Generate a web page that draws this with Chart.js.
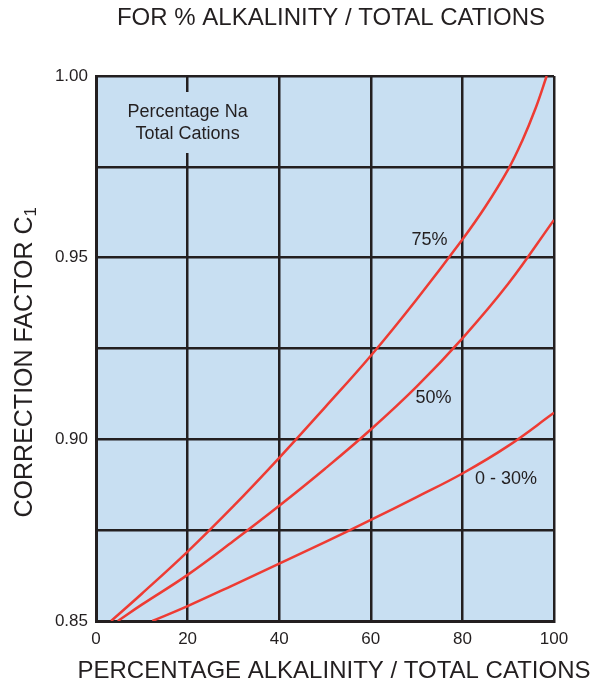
<!DOCTYPE html>
<html>
<head>
<meta charset="utf-8">
<script src="https://cdn.jsdelivr.net/npm/chart.js@4/dist/chart.umd.min.js"></script>
<style>
  html, body { margin: 0; padding: 0; background: #fff; }
  #wrap { width: 606px; height: 685px; }
</style>
</head>
<body>
<div id="wrap"><canvas id="myChart" width="606" height="685"></canvas></div>
<script>
// values
const alk75 = [3.3, 10, 20, 30, 40, 50, 60, 70, 80, 85, 90, 93, 96, 98.4];
const c75 = [0.85, 0.8575, 0.8691, 0.8816, 0.8949, 0.9088, 0.923, 0.9385, 0.955, 0.964, 0.9743, 0.982, 0.9912, 1.0];

const alk50 = [4.75, 10, 20, 30, 40, 50, 60, 70, 80, 90, 100];
const c50 = [0.85, 0.8545, 0.8627, 0.872, 0.8817, 0.8919, 0.9027, 0.9145, 0.9278, 0.9428, 0.9604];

const alk30 = [12.3, 20, 30, 40, 50, 60, 70, 80, 90, 100];
const c30 = [0.85, 0.8541, 0.8599, 0.8658, 0.8717, 0.8778, 0.8841, 0.8906, 0.8982, 0.9073];

const curveLabels = ['75%', '50%', '0 - 30%'];
const xTicks = [0, 20, 40, 60, 80, 100];
const yTicks = [0.85, 0.90, 0.95, 1.00];

const ink = '#231f20';
const red = '#ee3b33';
const blue = '#c8dff2';
const font = '"Liberation Sans", Arial, Helvetica, sans-serif';

function pts(xs, ys) {
    return xs.map(function (x, i) { return { x: x, y: ys[i] }; });
}

// fills the plot area and writes the titles and curve labels
const decor = {
    id: 'decor',
    beforeDraw(chart) {
        const a = chart.chartArea;
        const ctx = chart.ctx;
        ctx.save();
        ctx.fillStyle = blue;
        ctx.fillRect(a.left, a.top, a.right - a.left, a.bottom - a.top);
        ctx.restore();
    },
    afterDatasetsDraw(chart) {
        const ctx = chart.ctx;
        const xs = chart.scales.x;
        const ys = chart.scales.y;
        ctx.save();
        ctx.fillStyle = ink;
        ctx.textAlign = 'center';
        ctx.textBaseline = 'middle';

        // top title
        ctx.font = '24px ' + font;
        ctx.fillText('FOR % ALKALINITY / TOTAL CATIONS', 331, 18);
        // x title
        ctx.fillText('PERCENTAGE ALKALINITY / TOTAL CATIONS', 334, 671);

        // y title with subscript
        ctx.save();
        ctx.translate(25, 362);
        ctx.rotate(-Math.PI / 2);
        ctx.font = '25px ' + font;
        const main = 'CORRECTION FACTOR C';
        const w = ctx.measureText(main).width;
        ctx.textAlign = 'left';
        ctx.fillText(main, -w / 2 - 5, 0);
        ctx.font = '17px ' + font;
        ctx.fillText('1', w / 2 - 5, 6);
        ctx.restore();

        // legend box over the 20% grid line
        const gx = xs.getPixelForValue(20);
        ctx.fillStyle = blue;
        ctx.fillRect(gx - 3, 92, 6, 61);
        ctx.fillStyle = ink;
        ctx.font = '18px ' + font;
        ctx.fillText('Percentage Na', gx, 112);
        ctx.fillText('Total Cations', gx, 134);

        // curve labels
        ctx.fillText(curveLabels[0], xs.getPixelForValue(72.8), ys.getPixelForValue(0.9549));
        ctx.fillText(curveLabels[1], xs.getPixelForValue(73.7), ys.getPixelForValue(0.9113));
        ctx.fillText(curveLabels[2], xs.getPixelForValue(89.5), ys.getPixelForValue(0.8891));
        ctx.restore();
    }
};

const el = document.getElementById('myChart');
new Chart(el, {
    type: 'line',
    data: {
        datasets: [
            { label: curveLabels[0], data: pts(alk75, c75) },
            { label: curveLabels[1], data: pts(alk50, c50) },
            { label: curveLabels[2], data: pts(alk30, c30) }
        ].map(function (d) {
            return Object.assign(d, {
                borderColor: red,
                borderWidth: 2.5,
                pointRadius: 0,
                fill: false,
                tension: 0.4
            });
        })
    },
    options: {
        responsive: false,
        animation: false,
        layout: { padding: { top: 76, right: 52, bottom: 0, left: 0 } },
        plugins: {
            legend: { display: false },
            tooltip: { enabled: false }
        },
        scales: {
            x: {
                type: 'linear',
                min: 0,
                max: 100,
                afterFit: function (s) { s.height = 64; },
                afterBuildTicks: function (s) {
                    s.ticks = xTicks.map(function (v) { return { value: v }; });
                },
                ticks: {
                    color: ink,
                    padding: 8,
                    maxRotation: 0,
                    font: { family: font, size: 17 }
                },
                grid: {
                    color: ink,
                    lineWidth: 2.5,
                    drawTicks: false
                },
                border: { color: ink, width: 3 }
            },
            y: {
                min: 0.85,
                max: 1.0,
                afterFit: function (s) { s.width = 96; },
                afterBuildTicks: function (s) {
                    const t = [];
                    for (let i = 0; i <= 6; i++) t.push({ value: 0.85 + i * 0.025 });
                    s.ticks = t;
                },
                ticks: {
                    color: ink,
                    padding: 8,
                    font: { family: font, size: 17 },
                    callback: function (v) {
                        const hit = yTicks.find(function (t) { return Math.abs(t - v) < 1e-6; });
                        return hit === undefined ? '' : hit.toFixed(2);
                    }
                },
                grid: {
                    color: ink,
                    lineWidth: 2.5,
                    drawTicks: false
                },
                border: { color: ink, width: 3 }
            }
        }
    },
    plugins: [decor]
});
</script>
</body>
</html>
